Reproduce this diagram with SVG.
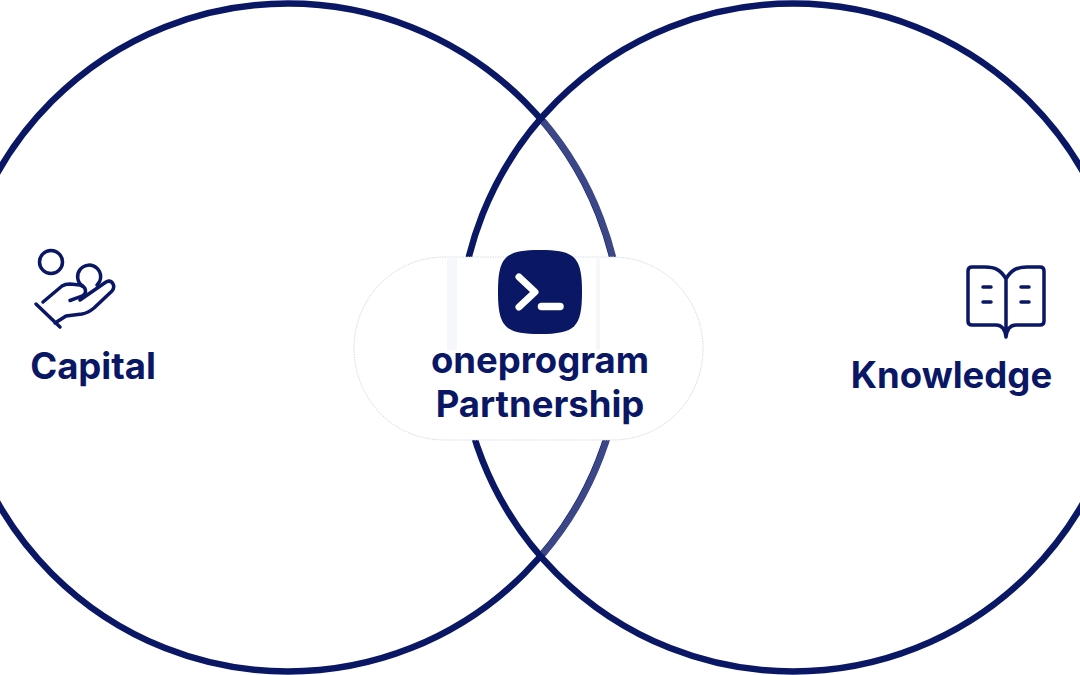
<svg xmlns="http://www.w3.org/2000/svg" width="1080" height="675" viewBox="0 0 1080 675">
<style>
.ring{fill:none;stroke:#0a1765;stroke-width:6.500}
.ic{fill:none;stroke:#0a1765;stroke-width:3.500;stroke-linecap:round;stroke-linejoin:round}
.t{font-family:Inter,"Liberation Sans",sans-serif;font-weight:700;fill:#0a1765;text-anchor:middle;font-size:36.500px}
</style>
<rect width="1080" height="675" fill="#fff"/>
<g id="connectors">
<circle class="ring" cx="288" cy="337.500" r="334"/>
<circle class="ring" cx="793" cy="337.500" r="334"/>
<path d="M543 121A334 334 0 0 1 543 554" fill="none" stroke="#3c4787" stroke-width="6.600"/>
</g>
<g id="partnership">
<path d="M445 257H612C665 257 703 300 703 348C703 398 665 440 612 440H445C392 440 354 398 354 348C354 300 392 257 445 257Z" fill="#fff" stroke="#d8daea" stroke-width="1" stroke-dasharray="1.500 1"/>
<rect x="447" y="257" width="10" height="93" fill="#f6f7fb"/>
<rect x="596" y="257" width="4" height="93" fill="#f6f7fb"/>
<path d="M540 250C575 250 582 257 582 292C582 327 575 334 540 334C505 334 498 327 498 292C498 257 505 250 540 250Z" fill="#0a1765"/>
<path d="M519 277L535 292L519 307" fill="none" stroke="#fff" stroke-width="7" stroke-linecap="round" stroke-linejoin="round"/>
<path d="M541.500 306.500H560" fill="none" stroke="#fff" stroke-width="7.500" stroke-linecap="round"/>
<text class="t" x="540" y="373">oneprogram</text>
<text class="t" x="540" y="417">Partnership</text>
</g>
<g id="capital">
<circle class="ic" cx="51" cy="262" r="11.500"/>
<path class="ic" d="M82.500 286A11.500 11.500 0 1 1 97 285"/>
<path class="ic" d="M36 304L60 327M43 302L62 286Q65 284 70 284L80 285C87 287 87 294 82 296L70 300.500M80 300L106 282C112 279 116 286 112 291L94 308Q88 313 82 314L66 316L55 323"/>
<text class="t" x="93" y="379">Capital</text>
</g>
<g id="knowledge">
<path class="ic" d="M1006 279C1001 270 995 267 985 267H972Q968 267 968 271V321Q968 325 972 325H996C1002 325 1005 329 1006 337C1007 329 1010 325 1016 325H1040Q1044 325 1044 321V271Q1044 267 1040 267H1027C1017 267 1011 270 1006 279ZM1006 279V334M983 287H991M983 302H991M1021 287H1029M1021 302H1029"/>
<text class="t" x="951.500" y="388">Knowledge</text>
</g>
</svg>
